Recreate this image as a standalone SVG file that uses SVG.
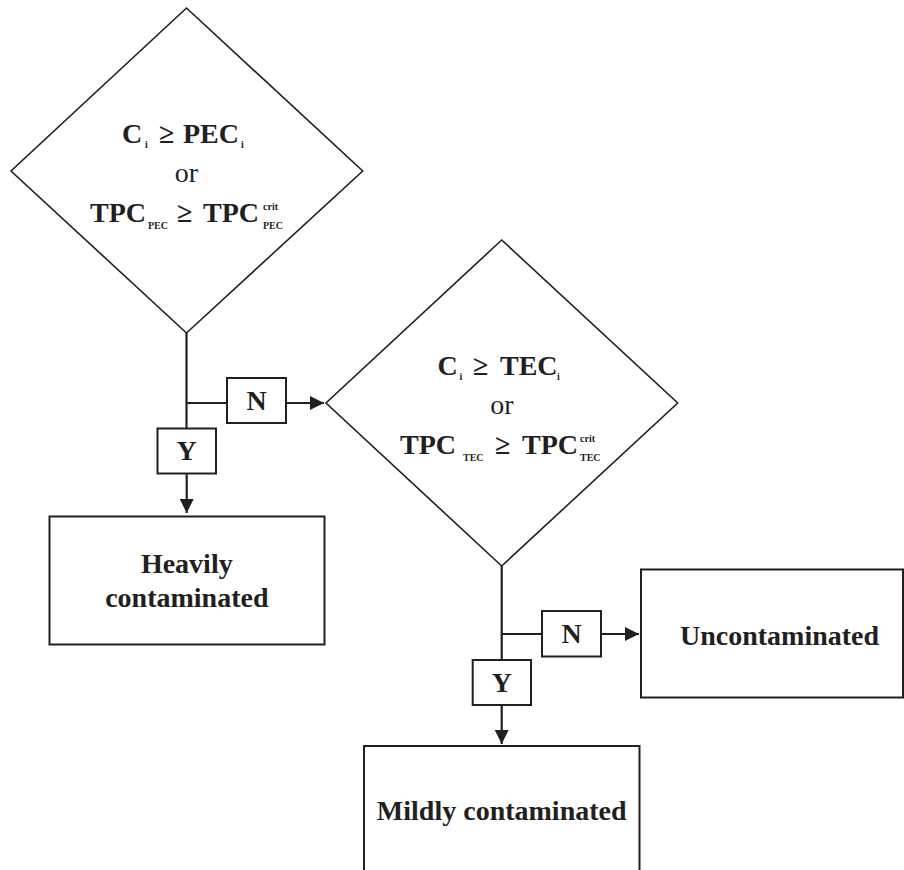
<svg xmlns="http://www.w3.org/2000/svg" width="904" height="870" viewBox="0 0 904 870">
  <defs>
    <style>
      .shape { fill: #ffffff; stroke: #231f20; }
      .dia { stroke-width: 1.6; }
      .box { stroke-width: 2; }
      .conn { fill: none; stroke: #231f20; stroke-width: 2.2; }
      .t { font-family: "Liberation Serif", "Times New Roman", serif; font-weight: bold; font-size: 28px; fill: #231f20; }
      .r { font-family: "Liberation Serif", "Times New Roman", serif; font-weight: normal; font-size: 28px; fill: #231f20; }
      .s { font-family: "Liberation Serif", "Times New Roman", serif; font-weight: bold; font-size: 10px; fill: #231f20; }
      .m { text-anchor: middle; }
    </style>
    <marker id="arrow" viewBox="0 0 14 14" refX="14" refY="7" markerWidth="14" markerHeight="14" markerUnits="userSpaceOnUse" orient="auto">
      <path d="M0,0 L14,7 L0,14 Z" fill="#231f20"/>
    </marker>
  </defs>

  <g id="connectors">
    <path class="conn" d="M186.5,333 L186.5,428"/>
    <path class="conn" d="M186.5,403 L227,403"/>
    <path class="conn" d="M286,403 L324,403" marker-end="url(#arrow)"/>
    <path class="conn" d="M186.7,473 L186.7,513" marker-end="url(#arrow)"/>
    <path class="conn" d="M501.7,566 L501.7,660"/>
    <path class="conn" d="M501.7,634 L542,634"/>
    <path class="conn" d="M601,634 L639,634" marker-end="url(#arrow)"/>
    <path class="conn" d="M501.7,705 L501.7,744" marker-end="url(#arrow)"/>
  </g>

  <g id="decision1">
    <polygon class="shape dia" points="186.5,8 362.7,171 186.5,333 11,171"/>
    <text class="t" x="122" y="143">C</text>
    <text class="s" x="145" y="148">i</text>
    <text class="t" x="159" y="143">≥</text>
    <text class="t" x="183" y="143">PEC</text>
    <text class="s" x="241" y="148">i</text>
    <text class="r m" x="186.5" y="182">or</text>
    <text class="t" x="90" y="222">TPC</text>
    <text class="s" x="148" y="229">PEC</text>
    <text class="t" x="177" y="222">≥</text>
    <text class="t" x="203" y="222">TPC</text>
    <text class="s" x="263" y="210">crit</text>
    <text class="s" x="263" y="229">PEC</text>
  </g>

  <g id="labelN1">
    <rect class="shape box" x="227" y="378" width="59" height="45"/>
    <text class="t m" x="256.5" y="410">N</text>
  </g>

  <g id="labelY1">
    <rect class="shape box" x="157.5" y="428.5" width="58.5" height="45"/>
    <text class="t m" x="186.7" y="460">Y</text>
  </g>

  <g id="decision2">
    <polygon class="shape dia" points="501.7,240 677.7,403 501.7,566 326,403"/>
    <text class="t" x="437.5" y="375">C</text>
    <text class="s" x="459.5" y="380">i</text>
    <text class="t" x="473" y="375">≥</text>
    <text class="t" x="500" y="375">TEC</text>
    <text class="s" x="557" y="380">i</text>
    <text class="r m" x="502" y="414">or</text>
    <text class="t" x="400" y="454">TPC</text>
    <text class="s" x="463" y="461">TEC</text>
    <text class="t" x="495" y="454">≥</text>
    <text class="t" x="522" y="454">TPC</text>
    <text class="s" x="580" y="442">crit</text>
    <text class="s" x="580" y="461">TEC</text>
  </g>

  <g id="heavily">
    <rect class="shape box" x="49.5" y="516.5" width="275" height="128"/>
    <text class="t m" x="186.8" y="573">Heavily</text>
    <text class="t m" x="186.8" y="607">contaminated</text>
  </g>

  <g id="labelN2">
    <rect class="shape box" x="542" y="611" width="59" height="45.5"/>
    <text class="t m" x="571.5" y="643">N</text>
  </g>

  <g id="labelY2">
    <rect class="shape box" x="472.7" y="660" width="58.3" height="45"/>
    <text class="t m" x="501.8" y="692">Y</text>
  </g>

  <g id="uncontaminated">
    <rect class="shape box" x="641" y="569.5" width="262" height="128"/>
    <text class="t m" x="779.5" y="645">Uncontaminated</text>
  </g>

  <g id="mildly">
    <rect class="shape box" x="364" y="746" width="275.5" height="140"/>
    <text class="t m" x="501.7" y="820">Mildly contaminated</text>
  </g>
</svg>
